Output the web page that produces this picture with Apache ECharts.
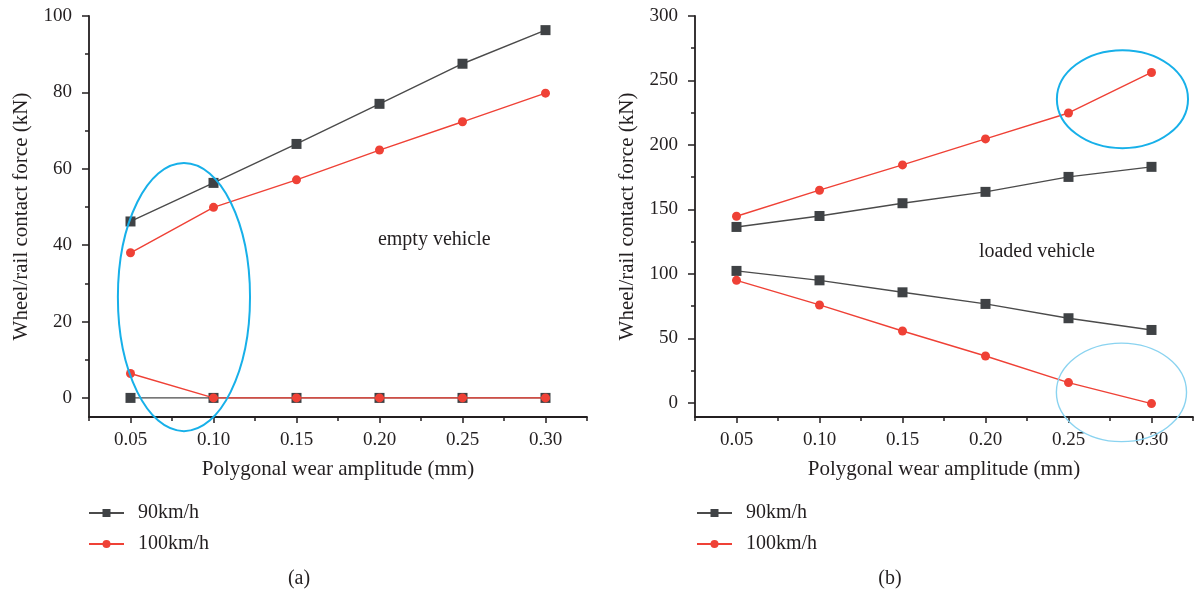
<!DOCTYPE html>
<html>
<head>
<meta charset="utf-8">
<script src="https://cdn.jsdelivr.net/npm/echarts@6/dist/echarts.min.js"></script>
<style>
html,body{margin:0;padding:0;background:#fff;}
#chart{width:1194px;height:597px;}
</style>
</head>
<body>
<div id="chart"></div>
<script>
// ---- data ----
var amplitudes = [0.05, 0.10, 0.15, 0.20, 0.25, 0.30];
// (a) empty vehicle
var emptyUpper90  = [46.2, 56.3, 66.5, 77.0, 87.5, 96.3];
var emptyUpper100 = [38.0, 49.9, 57.1, 64.9, 72.3, 79.8];
var emptyLower90  = [0, 0, 0, 0, 0, 0];
var emptyLower100 = [6.4, 0, 0, 0, 0, 0];
// (b) loaded vehicle
var loadedUpper90  = [136.4, 144.9, 154.8, 163.6, 175.2, 183.0];
var loadedUpper100 = [144.7, 164.9, 184.5, 204.7, 224.8, 256.2];
var loadedLower90  = [102.3, 95.0, 85.7, 76.7, 65.6, 56.5];
var loadedLower100 = [95.0, 75.9, 55.7, 36.3, 15.7, -0.6];
// tick values
var xMajorTicks = [0.05, 0.10, 0.15, 0.20, 0.25, 0.30];
var xMinorTicks = [0.025, 0.075, 0.125, 0.175, 0.225, 0.275, 0.325];
var yMajorA = [0, 20, 40, 60, 80, 100];
var yMinorA = [10, 30, 50, 70, 90];
var yMajorB = [0, 50, 100, 150, 200, 250, 300];
var yMinorB = [25, 75, 125, 175, 225, 275];
var seriesNames = ['90km/h', '100km/h'];

function pairs(vals){ return amplitudes.map(function(x,i){ return [x, vals[i]]; }); }

var FONT = '"Liberation Serif", "DejaVu Serif", serif';
var TXT = '#231f20';
var BLACK = '#3f4245';
var BLINE = '#4b4b4b';
var RED = '#ef4136';

function mainX(grid){
  return {
    type:'value', gridIndex:grid, min:0.025, max:0.325, position:'bottom',
    name:'Polygonal wear amplitude (mm)', nameLocation:'middle', nameGap:42,
    nameTextStyle:{fontFamily:FONT, fontSize:21, color:TXT},
    axisLine:{show:true, onZero:false, lineStyle:{color:TXT, width:1.8}},
    axisTick:{show:true, customValues:xMajorTicks, length:6, lineStyle:{color:TXT, width:1.5}},
    axisLabel:{customValues:xMajorTicks, margin:14, fontFamily:FONT, fontSize:19, color:TXT,
      formatter:function(v){ return v.toFixed(2); }},
    splitLine:{show:false}
  };
}
function minorX(grid){
  return {
    type:'value', gridIndex:grid, min:0.025, max:0.325, position:'bottom',
    axisLine:{show:false, onZero:false},
    axisTick:{show:true, customValues:xMinorTicks, length:4, lineStyle:{color:TXT, width:1.5}},
    axisLabel:{show:false}, splitLine:{show:false}
  };
}
function mainY(grid, min, max, majors){
  return {
    type:'value', gridIndex:grid, min:min, max:max, position:'left',
    name:'Wheel/rail contact force (kN)', nameLocation:'middle', nameGap:57,
    nameTextStyle:{fontFamily:FONT, fontSize:21, color:TXT},
    axisLine:{show:true, onZero:false, lineStyle:{color:TXT, width:1.8}},
    axisTick:{show:true, customValues:majors, length:7, lineStyle:{color:TXT, width:1.5}},
    axisLabel:{customValues:majors, margin:17, fontFamily:FONT, fontSize:19, color:TXT},
    splitLine:{show:false}
  };
}
function minorY(grid, min, max, minors){
  return {
    type:'value', gridIndex:grid, min:min, max:max, position:'left',
    axisLine:{show:false, onZero:false},
    axisTick:{show:true, customValues:minors, length:4, lineStyle:{color:TXT, width:1.5}},
    axisLabel:{show:false}, splitLine:{show:false}
  };
}
function lineSeries(name, xi, yi, vals, isRed){
  return {
    type:'line', name:name, xAxisIndex:xi, yAxisIndex:yi, data:pairs(vals),
    symbol: isRed ? 'circle' : 'rect', symbolSize: isRed ? 9 : 10,
    showSymbol:true, animation:false,
    itemStyle:{color: isRed ? RED : BLACK},
    lineStyle:{color: isRed ? RED : BLINE, width:1.4},
    z: isRed ? 3 : 2
  };
}

var chart = echarts.init(document.getElementById('chart'), null, {renderer:'canvas'});
var legendCommon = {
  orient:'vertical', itemWidth:35, itemHeight:10, itemGap:11,
  textStyle:{fontFamily:FONT, fontSize:20, color:TXT, padding:[0,0,0,9]},
  data:seriesNames, selectedMode:false
};
chart.setOption({
  animation:false,
  backgroundColor:'#fff',
  grid:[
    {left:89, top:16, width:498, height:401, containLabel:false},
    {left:695, top:16, width:498, height:401, containLabel:false}
  ],
  legend:[
    Object.assign({left:83, top:498}, legendCommon),
    Object.assign({left:691, top:498}, legendCommon)
  ],
  xAxis:[mainX(0), minorX(0), mainX(1), minorX(1)],
  yAxis:[mainY(0,-5,100,yMajorA), minorY(0,-5,100,yMinorA),
         mainY(1,-11,300,yMajorB), minorY(1,-11,300,yMinorB)],
  series:[
    lineSeries(seriesNames[0], 0, 0, emptyUpper90, false),
    lineSeries(seriesNames[0], 0, 0, emptyLower90, false),
    lineSeries(seriesNames[1], 0, 0, emptyUpper100, true),
    lineSeries(seriesNames[1], 0, 0, emptyLower100, true),
    lineSeries(seriesNames[0], 2, 2, loadedUpper90, false),
    lineSeries(seriesNames[0], 2, 2, loadedLower90, false),
    lineSeries(seriesNames[1], 2, 2, loadedUpper100, true),
    lineSeries(seriesNames[1], 2, 2, loadedLower100, true)
  ]
});

// ---- annotations anchored in data coordinates ----
var ellipses = [
  {axes:{xAxisIndex:0, yAxisIndex:0}, cx:0.0822, cy:26.4, hx:0.0398, hy:35.1, color:'#17b0e9', width:2},
  {axes:{xAxisIndex:2, yAxisIndex:2}, cx:0.2825, cy:235.5, hx:0.0395, hy:38.0, color:'#17b0e9', width:2},
  {axes:{xAxisIndex:2, yAxisIndex:2}, cx:0.2819, cy:8.1, hx:0.0392, hy:38.2, color:'#8ad3f0', width:1.4}
];
var notes = [
  {axes:{xAxisIndex:0, yAxisIndex:0}, x:0.233, y:41.5, text:'empty vehicle'},
  {axes:{xAxisIndex:2, yAxisIndex:2}, x:0.231, y:117.5, text:'loaded vehicle'}
];
var graphics = [];
ellipses.forEach(function(e){
  var c = chart.convertToPixel(e.axes, [e.cx, e.cy]);
  var p = chart.convertToPixel(e.axes, [e.cx + e.hx, e.cy + e.hy]);
  graphics.push({type:'ellipse', shape:{cx:c[0], cy:c[1], rx:Math.abs(p[0]-c[0]), ry:Math.abs(c[1]-p[1])},
    style:{fill:'none', stroke:e.color, lineWidth:e.width}, z:10, silent:true});
});
notes.forEach(function(n){
  var c = chart.convertToPixel(n.axes, [n.x, n.y]);
  graphics.push({type:'text', x:c[0], y:c[1], style:{text:n.text, font:'20px ' + FONT, fill:TXT,
    textAlign:'center', textVerticalAlign:'middle'}, z:10});
});
graphics.push({type:'text', x:299, y:579, style:{text:'(a)', font:'20px ' + FONT, fill:TXT, textAlign:'center', textVerticalAlign:'middle'}});
graphics.push({type:'text', x:890, y:579, style:{text:'(b)', font:'20px ' + FONT, fill:TXT, textAlign:'center', textVerticalAlign:'middle'}});
chart.setOption({graphic:graphics});
</script>
</body>
</html>
